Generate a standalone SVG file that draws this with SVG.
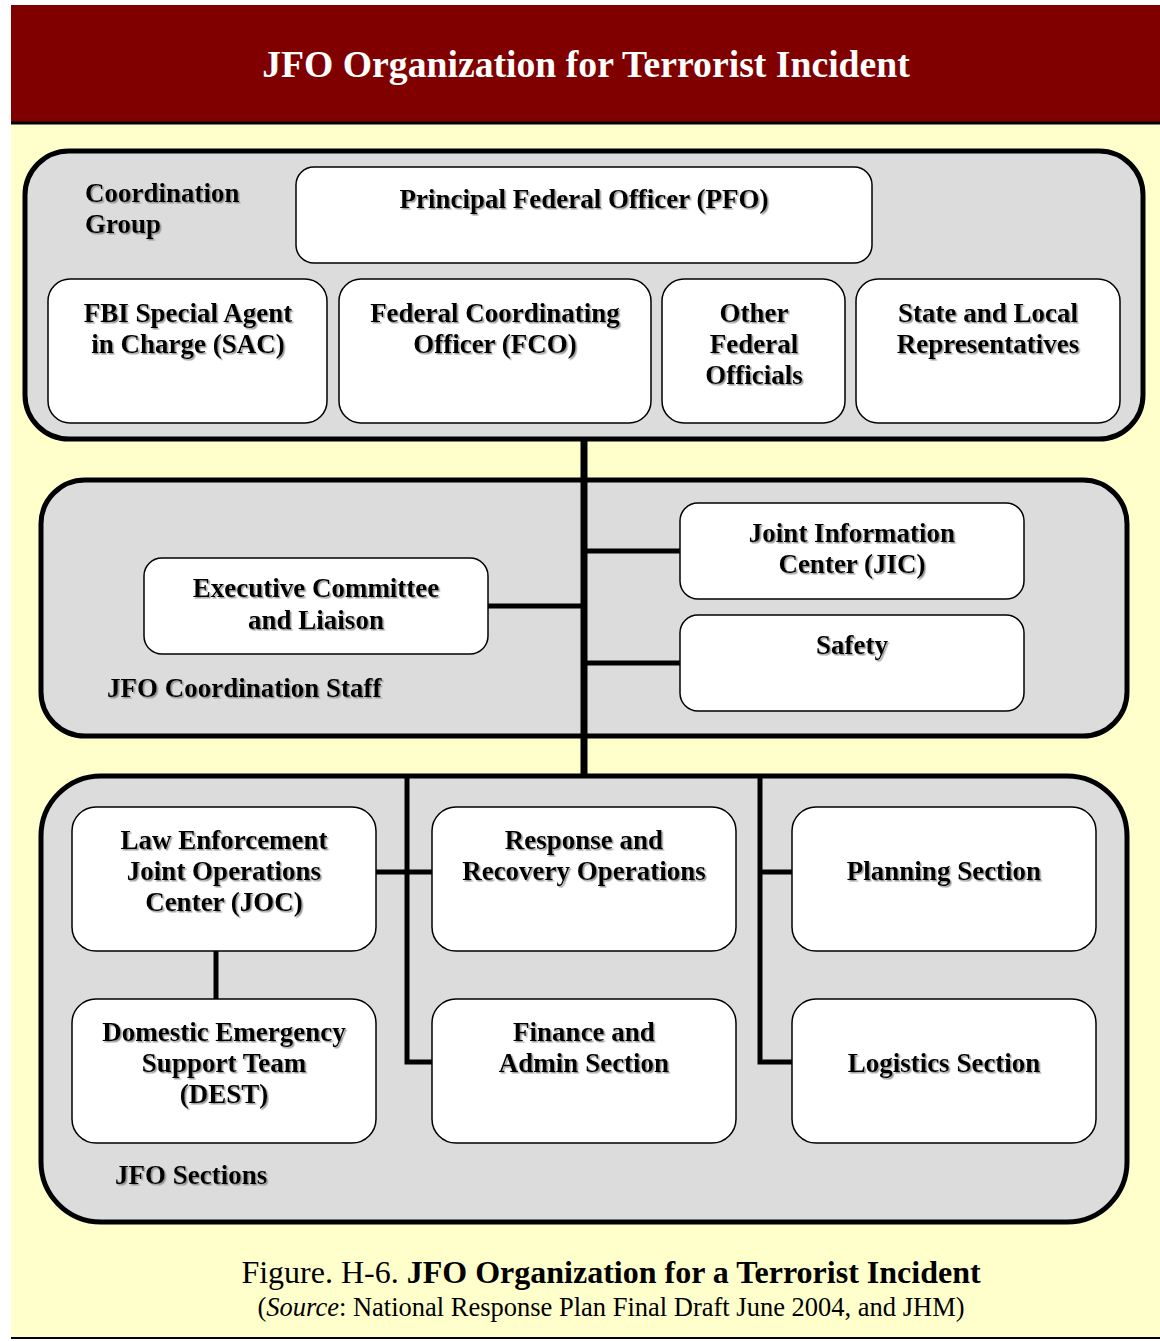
<svg xmlns="http://www.w3.org/2000/svg" width="1160" height="1341" viewBox="0 0 1160 1341">
  <defs>
    <filter id="tshadow" x="-5%" y="-20%" width="110%" height="140%">
      <feDropShadow dx="1.5" dy="1.5" stdDeviation="0.6" flood-color="#808080" flood-opacity="0.8"/>
    </filter>
  </defs>
  <style>
    .panel { fill: #dcdcdc; stroke: #000; stroke-width: 5; }
    .box { fill: #fff; stroke: #000; stroke-width: 1.5; }
    .lbl { font-family: "Liberation Serif", "Times New Roman", serif; font-weight: bold; font-size: 27px; fill: #000; filter: url(#tshadow); }
    .ctr { text-anchor: middle; }
    .conn { stroke: #000; stroke-width: 5; fill: none; stroke-linecap: butt; }
    .cap { font-family: "Liberation Serif", "Times New Roman", serif; fill: #000; }
  </style>

  <!-- page background -->
  <rect x="0" y="0" width="1160" height="1341" fill="#fff"/>
  <rect x="11" y="124" width="1149" height="1214" fill="#ffffcc"/>
  <rect x="11" y="5" width="1149" height="117" fill="#800000"/>
  <line x1="11" y1="123" x2="1160" y2="123" stroke="#000" stroke-width="3"/>
  <line x1="11" y1="1338" x2="1160" y2="1338" stroke="#000" stroke-width="2"/>
  <text x="586" y="77" text-anchor="middle" font-family="Liberation Serif, Times New Roman, serif" font-weight="bold" font-size="37.7" fill="#fff">JFO Organization for Terrorist Incident</text>

  <!-- grouping panels -->
  <g id="coordination-group">
    <rect class="panel" x="25" y="151" width="1118" height="288" rx="44"/>
    <text class="lbl" x="85" y="202">Coordination</text>
    <text class="lbl" x="85" y="233">Group</text>
  </g>
  <g id="coordination-staff">
    <rect class="panel" x="41" y="480" width="1086" height="256" rx="44"/>
    <text class="lbl" x="107" y="697">JFO Coordination Staff</text>
  </g>
  <g id="jfo-sections">
    <rect class="panel" x="41" y="776" width="1086" height="446" rx="60"/>
    <text class="lbl" x="115" y="1184">JFO Sections</text>
  </g>

  <!-- connectors -->
  <g id="connectors">
    <line class="conn" x1="584" y1="439" x2="584" y2="776" style="stroke-width:7"/>
    <line class="conn" x1="584" y1="551" x2="680" y2="551"/>
    <line class="conn" x1="584" y1="663" x2="680" y2="663"/>
    <line class="conn" x1="488" y1="606" x2="584" y2="606"/>
    <polyline class="conn" points="407,776 407,1062 432,1062"/>
    <line class="conn" x1="376" y1="872" x2="432" y2="872"/>
    <polyline class="conn" points="760,776 760,1062 792,1062"/>
    <line class="conn" x1="760" y1="872" x2="792" y2="872"/>
    <line class="conn" x1="216" y1="951" x2="216" y2="999"/>
  </g>

  <!-- coordination group members -->
  <g id="pfo">
    <rect class="box" x="296" y="167" width="576" height="96" rx="18"/>
    <text class="lbl ctr" x="584" y="208">Principal Federal Officer (PFO)</text>
  </g>
  <g id="sac">
    <rect class="box" x="48" y="279" width="279" height="144" rx="22"/>
    <text class="lbl ctr" x="188" y="322">FBI Special Agent</text>
    <text class="lbl ctr" x="188" y="353">in Charge (SAC)</text>
  </g>
  <g id="fco">
    <rect class="box" x="339" y="279" width="312" height="144" rx="22"/>
    <text class="lbl ctr" x="495" y="322">Federal Coordinating</text>
    <text class="lbl ctr" x="495" y="353">Officer (FCO)</text>
  </g>
  <g id="other-federal">
    <rect class="box" x="662" y="279" width="183" height="144" rx="22"/>
    <text class="lbl ctr" x="754" y="322">Other</text>
    <text class="lbl ctr" x="754" y="353">Federal</text>
    <text class="lbl ctr" x="754" y="384">Officials</text>
  </g>
  <g id="state-local">
    <rect class="box" x="856" y="279" width="264" height="144" rx="22"/>
    <text class="lbl ctr" x="988" y="322">State and Local</text>
    <text class="lbl ctr" x="988" y="353">Representatives</text>
  </g>

  <!-- coordination staff members -->
  <g id="exec-committee">
    <rect class="box" x="144" y="558" width="344" height="96" rx="18"/>
    <text class="lbl ctr" x="316" y="597">Executive Committee</text>
    <text class="lbl ctr" x="316" y="629">and Liaison</text>
  </g>
  <g id="jic">
    <rect class="box" x="680" y="503" width="344" height="96" rx="18"/>
    <text class="lbl ctr" x="852" y="542">Joint Information</text>
    <text class="lbl ctr" x="852" y="573">Center (JIC)</text>
  </g>
  <g id="safety">
    <rect class="box" x="680" y="615" width="344" height="96" rx="18"/>
    <text class="lbl ctr" x="852" y="654">Safety</text>
  </g>

  <!-- sections -->
  <g id="joc">
    <rect class="box" x="72" y="807" width="304" height="144" rx="24"/>
    <text class="lbl ctr" x="224" y="849">Law Enforcement</text>
    <text class="lbl ctr" x="224" y="880">Joint Operations</text>
    <text class="lbl ctr" x="224" y="911">Center (JOC)</text>
  </g>
  <g id="response-recovery">
    <rect class="box" x="432" y="807" width="304" height="144" rx="24"/>
    <text class="lbl ctr" x="584" y="849">Response and</text>
    <text class="lbl ctr" x="584" y="880">Recovery Operations</text>
  </g>
  <g id="planning">
    <rect class="box" x="792" y="807" width="304" height="144" rx="24"/>
    <text class="lbl ctr" x="944" y="880">Planning Section</text>
  </g>
  <g id="dest">
    <rect class="box" x="72" y="999" width="304" height="144" rx="24"/>
    <text class="lbl ctr" x="224" y="1041">Domestic Emergency</text>
    <text class="lbl ctr" x="224" y="1072">Support Team</text>
    <text class="lbl ctr" x="224" y="1103">(DEST)</text>
  </g>
  <g id="finance-admin">
    <rect class="box" x="432" y="999" width="304" height="144" rx="24"/>
    <text class="lbl ctr" x="584" y="1041">Finance and</text>
    <text class="lbl ctr" x="584" y="1072">Admin Section</text>
  </g>
  <g id="logistics">
    <rect class="box" x="792" y="999" width="304" height="144" rx="24"/>
    <text class="lbl ctr" x="944" y="1072">Logistics Section</text>
  </g>

  <!-- caption -->
  <text class="cap" x="611" y="1283" text-anchor="middle" font-size="32">Figure. H-6. <tspan font-weight="bold">JFO Organization for a Terrorist Incident</tspan></text>
  <text class="cap" x="611" y="1316" text-anchor="middle" font-size="26.5">(<tspan font-style="italic">Source</tspan>: National Response Plan Final Draft June 2004, and JHM)</text>
</svg>
